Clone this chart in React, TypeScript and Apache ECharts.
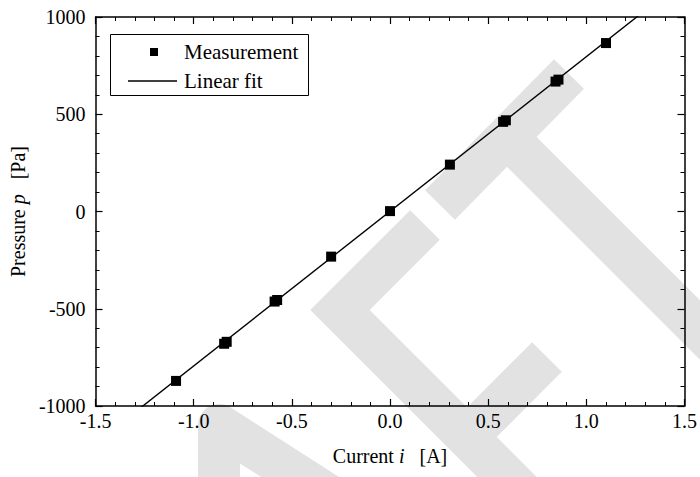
import React, { useEffect, useRef } from "react";
import * as echarts from "echarts";

const currentA = [-1.09, -0.845, -0.832, -0.588, -0.575, -0.3, 0.0, 0.305, 0.576, 0.59, 0.843, 0.858, 1.1];
const pressurePa = [-871, -680, -670, -463, -455, -232, 2, 241, 461, 469, 668, 678, 866];

// Linear fit parameters
const fitSlope = 795;
const fitIntercept = 1;

// Axis ranges
const xRange = [-1.5, 1.5];
const yRange = [-1000, 1000];
const xInterval = 0.5;
const yInterval = 500;

const seriesNames = ["Measurement", "Linear fit"];

const FONT = "Liberation Serif";
const WM = "#e2e2e2";

export default function App() {
  const ref = useRef<HTMLDivElement>(null);

  useEffect(() => {
    if (!ref.current) return;
    const chart = echarts.init(ref.current, null, { renderer: "svg" });

    const scatterData = currentA.map((x, i) => [x, pressurePa[i]]);
    const fitData = xRange.map((x) => [x, fitSlope * x + fitIntercept]);

    const axisCommon = {
      type: "value" as const,
      axisLine: { show: true, onZero: false, lineStyle: { color: "#000", width: 1.5 } },
      axisTick: { show: true, inside: true, length: 7, lineStyle: { color: "#000", width: 1.2 } },
      minorTick: { show: true, splitNumber: 5, length: 4, lineStyle: { color: "#000", width: 1 } },
      splitLine: { show: false },
      minorSplitLine: { show: false },
    };

    const labelRich = {
      t: { fontFamily: FONT, fontSize: 20, color: "#000" },
    };

    const wmLine = (points: number[][], join = "miter") => ({
      type: "polyline",
      z: -100,
      silent: true,
      shape: { points },
      style: { stroke: WM, lineWidth: 42, fill: null, lineJoin: join, lineCap: "butt" },
    });

    const option: any = {
      animation: false,
      backgroundColor: "#fff",
      textStyle: { fontFamily: FONT, fontSize: 20, color: "#000" },
      grid: { left: 93, right: 13, top: 17, bottom: 71, containLabel: false },
      xAxis: [
        {
          ...axisCommon,
          position: "bottom",
          min: xRange[0],
          max: xRange[1],
          interval: xInterval,
          axisLabel: {
            show: true,
            color: "#000",
            fontFamily: FONT,
            fontSize: 20,
            margin: 5,
            formatter: (v: number) => `{t|${v.toFixed(1)}}`,
            rich: labelRich,
          },
          name: "{a|Current }{i|i}{a|   [A]}",
          nameLocation: "middle",
          nameGap: 40,
          nameTextStyle: {
            rich: {
              a: { fontFamily: FONT, fontSize: 20, color: "#000" },
              i: { fontFamily: FONT, fontSize: 20, fontStyle: "italic", color: "#000" },
            },
          },
        },
        {
          ...axisCommon,
          position: "top",
          min: xRange[0],
          max: xRange[1],
          interval: xInterval,
          axisLabel: { show: false },
        },
      ],
      yAxis: [
        {
          ...axisCommon,
          position: "left",
          min: yRange[0],
          max: yRange[1],
          interval: yInterval,
          axisLabel: {
            show: true,
            color: "#000",
            fontFamily: FONT,
            fontSize: 20,
            margin: 10,
            formatter: (v: number) => `{t|${v}}`,
            rich: labelRich,
          },
          name: "{a|Pressure }{i|p}{a|   [Pa]}",
          nameLocation: "middle",
          nameRotate: 90,
          nameGap: 51,
          nameTextStyle: {
            rich: {
              a: { fontFamily: FONT, fontSize: 20, color: "#000" },
              i: { fontFamily: FONT, fontSize: 20, fontStyle: "italic", color: "#000" },
            },
          },
        },
        {
          ...axisCommon,
          position: "right",
          min: yRange[0],
          max: yRange[1],
          interval: yInterval,
          axisLabel: { show: false },
        },
      ],
      series: [
        {
          name: seriesNames[1],
          type: "line",
          data: fitData,
          showSymbol: false,
          symbol: "none",
          clip: true,
          lineStyle: { color: "#000", width: 1.4 },
          z: 3,
        },
        {
          name: seriesNames[0],
          type: "scatter",
          data: scatterData,
          symbol: "rect",
          symbolSize: 10,
          itemStyle: { color: "#000", opacity: 1 },
          z: 4,
        },
      ],
      graphic: [
        // light "DRAFT"-style watermark behind the chart
        wmLine([[440, 205], [569, 74]]),
        wmLine([[507, 137], [886, 516]]),
        wmLine([[425, 225], [340, 310], [715, 685]]),
        wmLine([[547, 357], [467, 437]]),
        wmLine([[219, 640], [219, 425], [500, 605]], "round"),
        // legend
        {
          type: "group",
          z: 100,
          children: [
            {
              type: "rect",
              shape: { x: 110.5, y: 34.5, width: 198, height: 61 },
              style: { fill: "#fff", stroke: "#000", lineWidth: 1 },
            },
            {
              type: "rect",
              shape: { x: 150, y: 48, width: 8, height: 8 },
              style: { fill: "#000" },
            },
            {
              type: "line",
              shape: { x1: 128, y1: 81, x2: 177, y2: 81 },
              style: { stroke: "#000", lineWidth: 1.5 },
            },
            {
              type: "text",
              style: {
                x: 184,
                y: 52,
                text: seriesNames[0],
                fill: "#000",
                font: `21px '${FONT}'`,
                verticalAlign: "middle",
              },
            },
            {
              type: "text",
              style: {
                x: 184,
                y: 81,
                text: seriesNames[1],
                fill: "#000",
                font: `21px '${FONT}'`,
                verticalAlign: "middle",
              },
            },
          ],
        },
      ],
    };

    chart.setOption(option);
    return () => chart.dispose();
  }, []);

  return (
    <div
      ref={ref}
      style={{ position: "absolute", left: 0, top: 0, width: 700, height: 477, background: "#fff" }}
    />
  );
}
